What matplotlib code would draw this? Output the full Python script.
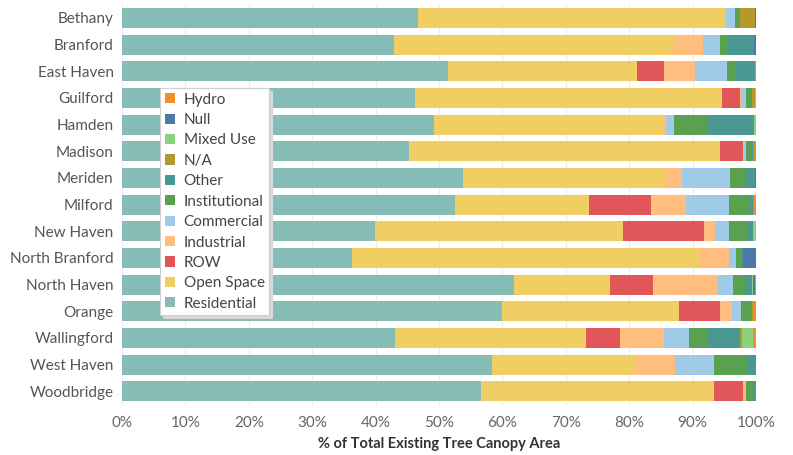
import numpy as np
import matplotlib.pyplot as plt
from matplotlib.patches import Patch

plt.rcParams['font.family'] = ['Lato', 'DejaVu Sans']

towns = ['Bethany', 'Branford', 'East Haven', 'Guilford', 'Hamden', 'Madison',
         'Meriden', 'Milford', 'New Haven', 'North Branford', 'North Haven',
         'Orange', 'Wallingford', 'West Haven', 'Woodbridge']

# share of canopy (%) by land use, one value per town
residential   = [46.7, 42.9, 51.4, 46.2, 49.2, 45.3, 53.8, 52.6, 39.9, 36.3, 61.8, 59.9, 43.1, 58.3, 56.6]
open_space    = [48.4, 44.0, 29.9, 48.4, 36.2, 49.0, 32.0, 21.1, 39.1, 54.8, 15.1, 27.9, 30.1, 22.6, 36.8]
row           = [0.0, 0.0, 4.2, 2.9, 0.0, 3.6, 0.0, 9.7, 12.8, 0.0, 6.9, 6.5, 5.3, 0.0, 4.6]
industrial    = [0.2, 4.8, 4.9, 0.1, 0.4, 0.2, 2.5, 5.5, 1.7, 4.7, 10.0, 1.9, 7.0, 6.3, 0.2]
commercial    = [1.4, 2.7, 5.1, 0.8, 1.3, 0.3, 7.6, 6.8, 2.2, 1.1, 2.6, 1.4, 4.0, 6.1, 0.2]
institutional = [0.7, 1.1, 1.2, 0.9, 5.2, 0.9, 2.5, 3.4, 3.1, 0.8, 1.8, 1.7, 3.0, 5.5, 1.3]
other         = [0.1, 4.2, 3.2, 0.1, 7.4, 0.3, 1.4, 0.4, 0.7, 0.3, 1.1, 0.1, 5.0, 1.2, 0.3]
na            = [2.4, 0.0, 0.0, 0.4, 0.0, 0.2, 0.0, 0.2, 0.0, 0.0, 0.1, 0.2, 0.3, 0.0, 0.0]
mixed_use     = [0.0, 0.0, 0.0, 0.2, 0.3, 0.0, 0.0, 0.0, 0.5, 0.0, 0.2, 0.0, 1.8, 0.0, 0.0]
null          = [0.1, 0.3, 0.0, 0.0, 0.0, 0.1, 0.2, 0.0, 0.0, 2.0, 0.3, 0.0, 0.0, 0.0, 0.0]
hydro         = [0.0, 0.0, 0.1, 0.1, 0.0, 0.1, 0.0, 0.3, 0.0, 0.0, 0.1, 0.4, 0.4, 0.0, 0.0]

categories = ['Residential', 'Open Space', 'ROW', 'Industrial', 'Commercial',
              'Institutional', 'Other', 'N/A', 'Mixed Use', 'Null', 'Hydro']
series = [residential, open_space, row, industrial, commercial, institutional,
          other, na, mixed_use, null, hydro]
colors = ['#86BCB6', '#F1CE63', '#E15759', '#FFBE7D', '#A0CBE8', '#59A14F',
          '#499894', '#B6992D', '#8CD17D', '#4E79A7', '#F28E2B']

fig = plt.figure(figsize=(7.93, 4.55), dpi=100)
ax = fig.add_axes([122 / 793, 1 - 404.5 / 455, 634 / 793, 400 / 455])

y = np.arange(len(towns))
left = np.zeros(len(towns))
for vals, col in zip(series, colors):
    v = np.array(vals) / 100
    ax.barh(y, v, left=left, height=0.75, color=col, edgecolor='none', zorder=2)
    left += v

ax.set_ylim(len(towns) - 0.5, -0.5)
ax.set_xlim(0, 1)
ax.set_yticks(y)
ax.set_yticklabels(towns, fontsize=11, color='#555555')
xt = np.arange(0, 1.01, 0.1)
ax.set_xticks(xt)
ax.set_xticklabels([f'{int(round(t * 100))}%' for t in xt], fontsize=11, color='#666666')
ax.tick_params(length=0, pad=6)
ax.tick_params(axis='x', pad=8)
ax.grid(axis='x', color='#ececec', linewidth=0.8, zorder=0)
for s in ax.spines.values():
    s.set_visible(False)
ax.set_xlabel('% of Total Existing Tree Canopy Area', fontsize=10.5, fontweight='bold',
              color='#333333', labelpad=5)

handles = [Patch(facecolor=c, edgecolor='none') for c in colors][::-1]
labels = categories[::-1]
leg = fig.legend(handles, labels, loc='upper left', bbox_to_anchor=(160 / 793, 1 - 88 / 455),
                 fontsize=11, frameon=True, fancybox=False, framealpha=1,
                 handlelength=0.65, handleheight=0.65, handletextpad=0.6,
                 labelspacing=0.42, borderpad=0.3, borderaxespad=0,
                 shadow={'color': '#d8d8d8', 'alpha': 1, 'ox': 2, 'oy': -2})
for t in leg.get_texts():
    t.set_color('#444444')
fr = leg.get_frame()
fr.set_edgecolor('#d0d0d0')
fr.set_linewidth(0.8)
leg.set_zorder(5)

fig.savefig('out.png', dpi=100)
